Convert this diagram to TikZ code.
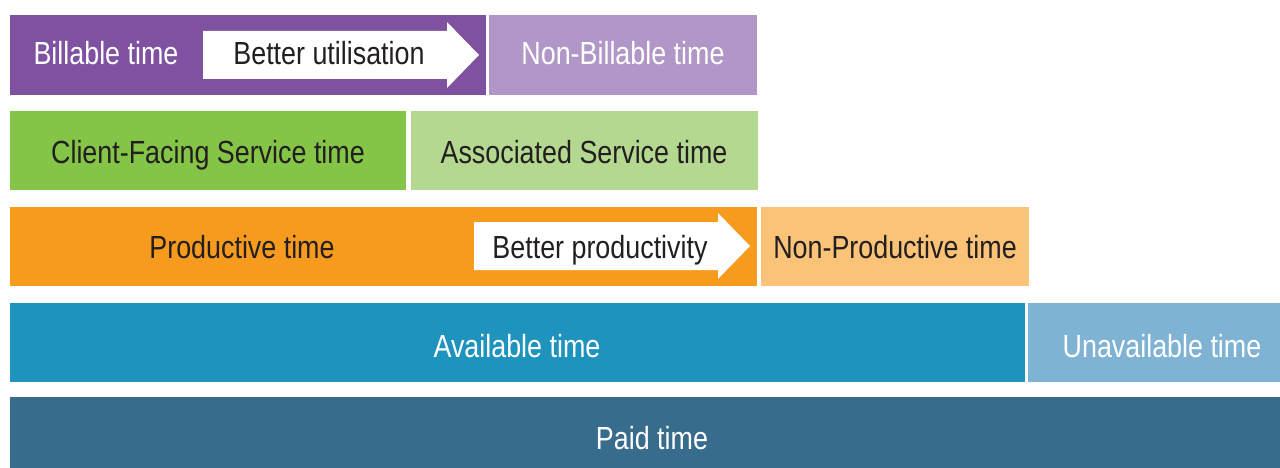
\documentclass[tikz,border=0pt]{standalone}
\usepackage{fontspec}
\setmainfont{Liberation Sans}[FakeStretch=0.84]
\definecolor{billable}{HTML}{7F52A1}
\definecolor{nonbillable}{HTML}{B197C8}
\definecolor{client}{HTML}{84C446}
\definecolor{assoc}{HTML}{B5D890}
\definecolor{productive}{HTML}{F79B1F}
\definecolor{nonproductive}{HTML}{FAC378}
\definecolor{available}{HTML}{1E93BE}
\definecolor{unavailable}{HTML}{7FB3D3}
\definecolor{paid}{HTML}{376C8D}
\definecolor{ink}{HTML}{231F20}
\tikzset{bar/.style={anchor=north west, inner sep=0pt, outer sep=0pt},
 lbl/.style={anchor=base, inner sep=0pt, font=\fontsize{32pt}{38pt}\selectfont, text=ink}}

\begin{document}
\begin{tikzpicture}[x=1pt,y=-1pt]
 \useasboundingbox (0,0) rectangle (1280,468);
 % the bars, row by row from the top
 \node[bar, fill=billable, minimum width=476pt, minimum height=80pt] (billable) at (10,15) {};
 \node[bar, fill=nonbillable, minimum width=268pt, minimum height=80pt] (nonbillable) at (489,15) {};
 \node[bar, fill=client, minimum width=396pt, minimum height=79pt] (client) at (10,111) {};
 \node[bar, fill=assoc, minimum width=347pt, minimum height=79pt] (assoc) at (411,111) {};
 \node[bar, fill=productive, minimum width=747pt, minimum height=79pt] (productive) at (10,207) {};
 \node[bar, fill=nonproductive, minimum width=268pt, minimum height=79pt] (nonproductive) at (761,207) {};
 \node[bar, fill=available, minimum width=1015pt, minimum height=79pt] (available) at (10,303) {};
 \node[bar, fill=unavailable, minimum width=262pt, minimum height=79pt] (unavailable) at (1028,303) {};
 \node[bar, fill=paid, minimum width=1280pt, minimum height=80pt] (paid) at (10,397) {};
 % white arrows, edit here for their place
 \foreach \x/\y in {203/55, 474/246}
 \fill[white, shift={(\x,\y)}] (0,-24) -- (244,-24) -- (244,-33) -- (276,0) -- (244,33) -- (244,24) -- (0,24) -- cycle;
 % the texts
 \node[lbl, text=white] (billtxt) at (106,65) {Billable time};
 \node[lbl] (utiltxt) at (329,65) {Better utilisation};
 \node[lbl, text=white] (nonbilltxt) at (623,65) {Non-Billable time};
 \node[lbl] (clienttxt) at (208,164) {Client-Facing Service time};
 \node[lbl] (assoctxt) at (584,164) {Associated Service time};
 \node[lbl] (prodtxt) at (242,258) {Productive time};
 \node[lbl] (prodarrtxt) at (600,258) {Better productivity};
 \node[lbl] (nonprodtxt) at (895,258) {Non-Productive time};
 \node[lbl, text=white] (availtxt) at (517,357) {Available time};
 \node[lbl, text=white] (unavailtxt) at (1162,357) {Unavailable time};
 \node[lbl, text=white] (paidtxt) at (652,449) {Paid time};
\end{tikzpicture}
\end{document}
